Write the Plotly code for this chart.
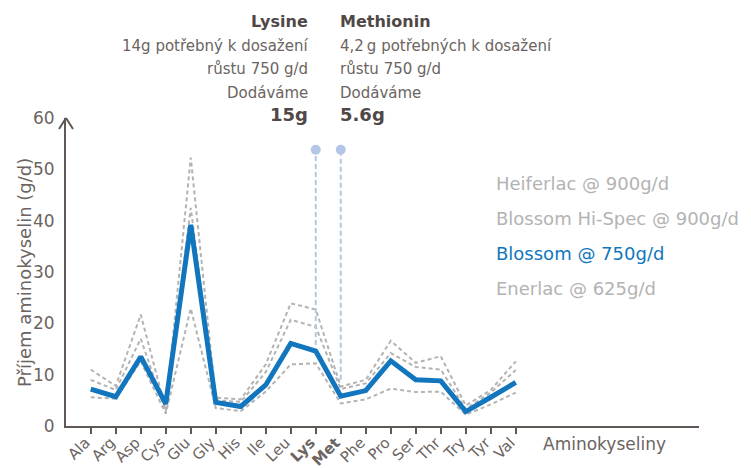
import plotly.graph_objects as go

categories = ["Ala", "Arg", "Asp", "Cys", "Glu", "Gly", "His", "Ile", "Leu", "Lys",
              "Met", "Phe", "Pro", "Ser", "Thr", "Try", "Tyr", "Val"]
tick_labels = ["Ala", "Arg", "Asp", "Cys", "Glu", "Gly", "His", "Ile", "Leu", "<b>Lys</b>",
               "<b>Met</b>", "Phe", "Pro", "Ser", "Thr", "Try", "Tyr", "Val"]

heiferlac_900 = [11.0, 7.8, 21.7, 3.2, 52.3, 5.5, 5.2, 12.0, 23.9, 22.7, 7.7, 9.0, 16.6, 12.3, 13.6, 4.0, 7.0, 12.6]
hispec_900 = [9.0, 7.0, 17.0, 2.8, 42.5, 5.0, 4.7, 10.5, 20.7, 19.3, 7.2, 8.3, 14.2, 11.5, 11.0, 3.3, 6.5, 10.9]
blossom_750 = [7.2, 5.7, 13.5, 4.3, 39.2, 4.6, 3.8, 8.0, 16.1, 14.6, 5.8, 6.9, 12.7, 9.0, 8.8, 2.8, 5.6, 8.5]
enerlac_625 = [5.6, 5.3, 12.6, 2.4, 22.9, 3.5, 2.9, 6.7, 12.0, 12.2, 4.4, 5.2, 7.3, 6.6, 6.7, 2.2, 4.2, 6.5]

series_names = ["Heiferlac @ 900g/d", "Blossom Hi-Spec @ 900g/d", "Blossom @ 750g/d", "Enerlac @ 625g/d"]

marker_cats = ["Lys", "Met"]
marker_low = [15.8, 9.0]
marker_top = [53.8, 53.8]

y_ticks = [0, 10, 20, 30, 40, 50, 60]

FONT = "DejaVu Sans"
AXIS_COL = "#5f5855"
TEXT_COL = "#6b6461"
HEAD_COL = "#4f4847"
GRAY = "#b3b3b3"
BLUE = "#1176bd"
LIGHT_BLUE = "#b4c6e6"

# page body has an 8px margin; figure is placed at (8, 8)
OFF = 8
W, H = 751 - OFF, 468 - OFF
PLOT_L, PLOT_R, PLOT_T, PLOT_B = 66 - OFF, 699 - OFF, 118 - OFF, 426 - OFF
PH = PLOT_B - PLOT_T
PW = PLOT_R - PLOT_L


def py(ypx):
    return (PLOT_B - (ypx - OFF)) / PH


def px(xpx):
    return ((xpx - OFF) - PLOT_L) / PW


x_idx = list(range(len(categories)))

fig = go.Figure()

for vals, name in [(heiferlac_900, series_names[0]), (hispec_900, series_names[1]), (enerlac_625, series_names[3])]:
    fig.add_trace(go.Scatter(x=x_idx, y=vals, mode="lines", name=name,
                             line=dict(color=GRAY, width=2, dash="4px,3px"),
                             showlegend=False, hoverinfo="skip"))

for cat, lo, hi in zip(marker_cats, marker_low, marker_top):
    i = categories.index(cat)
    fig.add_trace(go.Scatter(x=[i, i], y=[lo, hi], mode="lines",
                             line=dict(color=LIGHT_BLUE, width=2, dash="5px,3px"),
                             showlegend=False, hoverinfo="skip"))
    fig.add_trace(go.Scatter(x=[i], y=[hi], mode="markers",
                             marker=dict(color=LIGHT_BLUE, size=10),
                             showlegend=False, hoverinfo="skip"))

fig.add_trace(go.Scatter(x=x_idx, y=blossom_750, mode="lines", name=series_names[2],
                         line=dict(color=BLUE, width=5), showlegend=False))

annotations = []
lys_i = categories.index("Lys")
met_i = categories.index("Met")
blocks = [
    (lys_i, "right", -6, ["Lysine", "14g potřebný k dosažení", "růstu 750 g/d", "Dodáváme", "15g"]),
    (met_i, "left", -3, ["Methionin", "4,2\u2009g potřebných k dosažení", "růstu 750 g/d", "Dodáváme", "5.6g"]),
]
line_y = [21, 46, 69, 93, 115]
for xi, anchor, shift, lines in blocks:
    for k, (txt, ypx) in enumerate(zip(lines, line_y)):
        if k == 0:
            f = dict(family=FONT, size=16, color=HEAD_COL)
            txt = "<b>" + txt + "</b>"
        elif k == 4:
            f = dict(family=FONT, size=18, color=HEAD_COL)
            txt = "<b>" + txt + "</b>"
        else:
            f = dict(family=FONT, size=15, color=TEXT_COL)
        annotations.append(dict(x=xi, xref="x", y=py(ypx),
                                yref="paper", text=txt, showarrow=False, xanchor=anchor,
                                yanchor="middle", xshift=shift, font=f))

legend_y = [183, 218, 253, 288]
legend_cols = [GRAY, GRAY, BLUE, GRAY]
for name, ypx, col in zip(series_names, legend_y, legend_cols):
    annotations.append(dict(x=px(496), xref="paper", y=py(ypx), yref="paper",
                            text=name, showarrow=False, xanchor="left", yanchor="middle", xshift=-2,
                            font=dict(family=FONT, size=18, color=col)))

annotations.append(dict(x=px(604), xref="paper", y=py(444), yref="paper",
                        text="Aminokyseliny", showarrow=False, xanchor="center", yanchor="middle",
                        font=dict(family=FONT, size=17, color=TEXT_COL)))

annotations.append(dict(x=px(24), xref="paper", y=py(273), yref="paper",
                        text="Příjem aminokyselin (g/d)", textangle=-90, showarrow=False,
                        xanchor="center", yanchor="middle",
                        font=dict(family=FONT, size=18, color=TEXT_COL)))

shapes = [
    dict(type="line", xref="paper", yref="paper", xsizemode="pixel", ysizemode="pixel",
         xanchor=0, yanchor=1, x0=-7, y0=-11, x1=0, y1=0, line=dict(color=AXIS_COL, width=2)),
    dict(type="line", xref="paper", yref="paper", xsizemode="pixel", ysizemode="pixel",
         xanchor=0, yanchor=1, x0=7, y0=-11, x1=0, y1=0, line=dict(color=AXIS_COL, width=2)),
]

fig.update_layout(
    width=W, height=H,
    margin=dict(l=PLOT_L, r=W - PLOT_R, t=PLOT_T, b=H - PLOT_B),
    plot_bgcolor="white", paper_bgcolor="white",
    font=dict(family=FONT, color=TEXT_COL),
    annotations=annotations, shapes=shapes,
    xaxis=dict(range=[-0.99, 24.33], tickmode="array", tickvals=x_idx, ticktext=tick_labels,
               tickangle=-45, tickfont=dict(family=FONT, size=15, color=TEXT_COL),
               ticklabelstandoff=-6, ticklabelshift=-5,
               showline=True, linecolor=AXIS_COL, linewidth=2, ticks="outside", ticklen=6,
               tickwidth=2, tickcolor=AXIS_COL, showgrid=False, zeroline=False, automargin=False),
    yaxis=dict(range=[0, 60], tickvals=y_ticks, tickfont=dict(family=FONT, size=17, color=TEXT_COL),
               showline=True, linecolor=AXIS_COL, linewidth=2, ticks="", showgrid=False,
               zeroline=False, ticklabelstandoff=6, automargin=False),
)

fig.write_html("out.html")
